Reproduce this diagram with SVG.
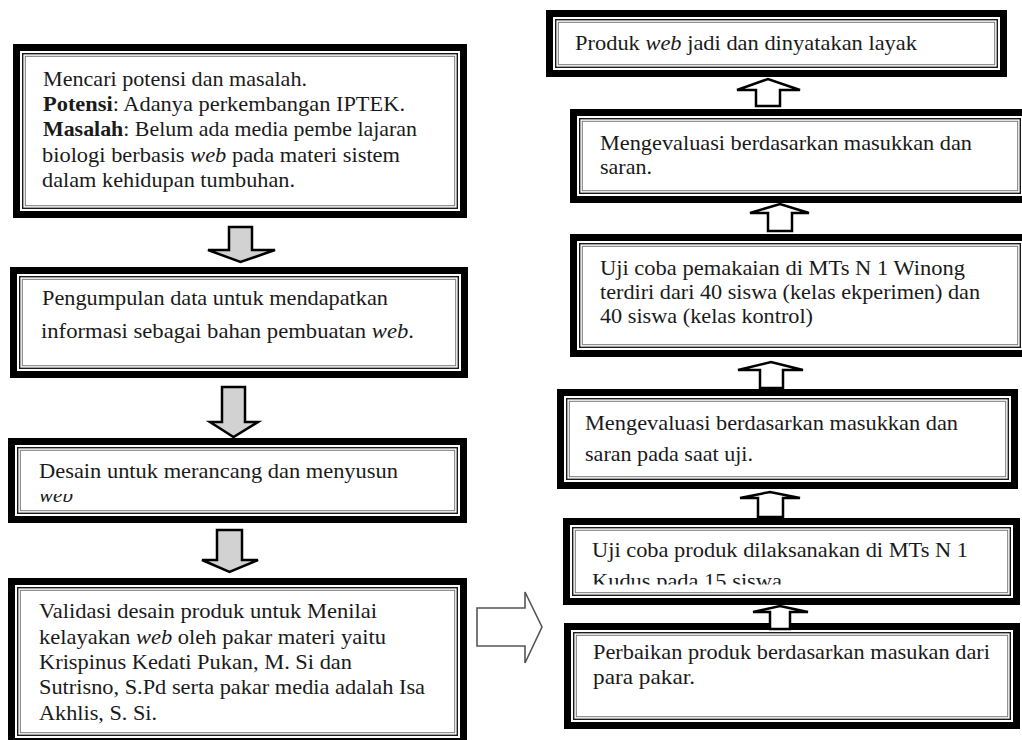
<svg xmlns="http://www.w3.org/2000/svg" width="1022" height="740" viewBox="0 0 1022 740">
<style>
.outer{fill:#fff;stroke:#000;stroke-width:7}
.in1{fill:none;stroke:#1a1a1a;stroke-width:1.4}
.in2{fill:none;stroke:#777;stroke-width:1}
.t{font-family:"Liberation Serif","Times New Roman",serif;font-size:21px;fill:#1a1a1a}
.b{font-weight:bold}
.i{font-style:italic}
.down{fill:#d2d2d2;stroke:#000;stroke-width:2.5;stroke-linejoin:miter}
.up{fill:#fff;stroke:#000;stroke-width:2.5;stroke-linejoin:miter}
.hollow{fill:#fff;stroke:#555;stroke-width:1.6}
</style>
<defs>
<clipPath id="clipWeb"><rect x="30" y="494" width="100" height="20"/></clipPath>
<clipPath id="clipKudus"><rect x="580" y="560" width="300" height="24.5"/></clipPath>
</defs>
<rect width="1022" height="740" fill="#fff"/>

<g id="node-potensi">
<rect class="outer" x="16.5" y="47.5" width="447" height="167"/>
<rect class="in1" x="22.7" y="53.7" width="434.6" height="154.6"/>
<rect class="in2" x="25.3" y="56.3" width="429.4" height="149.4"/>
<text class="t" x="43" y="86" textLength="264" lengthAdjust="spacingAndGlyphs">Mencari potensi dan masalah.</text>
<text class="t" x="43" y="111" textLength="362" lengthAdjust="spacingAndGlyphs"><tspan class="b">Potensi</tspan>: Adanya perkembangan IPTEK.</text>
<text class="t" x="43" y="136" textLength="374" lengthAdjust="spacingAndGlyphs"><tspan class="b">Masalah</tspan>: Belum ada media pembe lajaran</text>
<text class="t" x="42" y="162" textLength="358" lengthAdjust="spacingAndGlyphs">biologi berbasis <tspan class="i">web</tspan> pada materi sistem</text>
<text class="t" x="42" y="187" textLength="253" lengthAdjust="spacingAndGlyphs">dalam kehidupan tumbuhan.</text>
</g>

<g id="node-pengumpulan">
<rect class="outer" x="13.5" y="270.5" width="451" height="104"/>
<rect class="in1" x="19.7" y="276.7" width="438.6" height="91.6"/>
<rect class="in2" x="22.3" y="279.3" width="433.4" height="86.4"/>
<text class="t" x="42" y="305" textLength="346" lengthAdjust="spacingAndGlyphs">Pengumpulan data untuk mendapatkan</text>
<text class="t" x="41" y="338" textLength="373" lengthAdjust="spacingAndGlyphs">informasi sebagai bahan pembuatan <tspan class="i">web</tspan>.</text>
</g>

<g id="node-desain">
<rect class="outer" x="11.5" y="441.5" width="452" height="78"/>
<rect class="in1" x="17.7" y="447.7" width="439.6" height="65.6"/>
<rect class="in2" x="20.3" y="450.3" width="434.4" height="60.4"/>
<text class="t" x="39" y="478" textLength="359" lengthAdjust="spacingAndGlyphs">Desain untuk merancang dan menyusun</text>
<text class="t i" x="39" y="502" font-size="15" textLength="34" lengthAdjust="spacingAndGlyphs" clip-path="url(#clipWeb)">web</text>
</g>

<g id="node-validasi">
<rect class="outer" x="11.5" y="581.5" width="452" height="160"/>
<rect class="in1" x="17.7" y="587.7" width="439.6" height="147.6"/>
<rect class="in2" x="20.3" y="590.3" width="434.4" height="142.4"/>
<text class="t" x="39" y="618" textLength="338" lengthAdjust="spacingAndGlyphs">Validasi desain produk untuk Menilai</text>
<text class="t" x="39" y="644" textLength="347" lengthAdjust="spacingAndGlyphs">kelayakan <tspan class="i">web</tspan> oleh pakar materi yaitu</text>
<text class="t" x="39" y="669" textLength="313" lengthAdjust="spacingAndGlyphs">Krispinus Kedati Pukan, M. Si dan</text>
<text class="t" x="39" y="694" textLength="386" lengthAdjust="spacingAndGlyphs">Sutrisno, S.Pd serta pakar media adalah Isa</text>
<text class="t" x="39" y="720" textLength="118" lengthAdjust="spacingAndGlyphs">Akhlis, S. Si.</text>
</g>

<g id="node-produk-jadi">
<rect class="outer" x="549.5" y="13.5" width="454" height="60"/>
<rect class="in1" x="555.7" y="19.7" width="441.6" height="47.6"/>
<rect class="in2" x="558.3" y="22.3" width="436.4" height="42.4"/>
<text class="t" x="575" y="50" textLength="342" lengthAdjust="spacingAndGlyphs">Produk <tspan class="i">web</tspan> jadi dan dinyatakan layak</text>
</g>

<g id="node-evaluasi-2">
<rect class="outer" x="573.5" y="112.5" width="453" height="87"/>
<rect class="in1" x="579.7" y="118.7" width="440.6" height="74.6"/>
<rect class="in2" x="582.3" y="121.3" width="435.4" height="69.4"/>
<text class="t" x="600" y="150" textLength="372" lengthAdjust="spacingAndGlyphs">Mengevaluasi berdasarkan masukkan dan</text>
<text class="t" x="600" y="174" textLength="52" lengthAdjust="spacingAndGlyphs">saran.</text>
</g>

<g id="node-uji-pemakaian">
<rect class="outer" x="573.5" y="237.5" width="453" height="116"/>
<rect class="in1" x="579.7" y="243.7" width="440.6" height="103.6"/>
<rect class="in2" x="582.3" y="246.3" width="435.4" height="98.4"/>
<text class="t" x="600" y="275" textLength="365" lengthAdjust="spacingAndGlyphs">Uji coba pemakaian di MTs N 1 Winong</text>
<text class="t" x="600" y="299" textLength="380" lengthAdjust="spacingAndGlyphs">terdiri dari 40 siswa (kelas ekperimen) dan</text>
<text class="t" x="600" y="323" textLength="213" lengthAdjust="spacingAndGlyphs">40 siswa (kelas kontrol)</text>
</g>

<g id="node-evaluasi-1">
<rect class="outer" x="560.5" y="392.5" width="454" height="93"/>
<rect class="in1" x="566.7" y="398.7" width="441.6" height="80.6"/>
<rect class="in2" x="569.3" y="401.3" width="436.4" height="75.4"/>
<text class="t" x="585" y="430" textLength="373" lengthAdjust="spacingAndGlyphs">Mengevaluasi berdasarkan masukkan dan</text>
<text class="t" x="585" y="461" textLength="168" lengthAdjust="spacingAndGlyphs">saran pada saat uji.</text>
</g>

<g id="node-uji-produk">
<rect class="outer" x="566.5" y="521.5" width="450" height="80"/>
<rect class="in1" x="572.7" y="527.7" width="437.6" height="67.6"/>
<rect class="in2" x="575.3" y="530.3" width="432.4" height="62.4"/>
<text class="t" x="592" y="557" textLength="376" lengthAdjust="spacingAndGlyphs">Uji coba produk dilaksanakan di MTs N 1</text>
<text class="t" x="592" y="588" textLength="190" lengthAdjust="spacingAndGlyphs" clip-path="url(#clipKudus)">Kudus pada 15 siswa</text>
</g>

<g id="node-perbaikan">
<rect class="outer" x="567.5" y="626.5" width="449" height="99"/>
<rect class="in1" x="573.7" y="632.7" width="436.6" height="86.6"/>
<rect class="in2" x="576.3" y="635.3" width="431.4" height="81.4"/>
<text class="t" x="593" y="659" textLength="397" lengthAdjust="spacingAndGlyphs">Perbaikan produk berdasarkan masukan dari</text>
<text class="t" x="593" y="684" textLength="102" lengthAdjust="spacingAndGlyphs">para pakar.</text>
</g>

<g id="connectors">
<path class="down" d="M229,227 H252 V250 H275 L240.5,262 L208,250 H229 Z"/>
<path class="down" d="M222,387 H245 V422 H258 L233.5,437 L210,422 H222 Z"/>
<path class="down" d="M217,530 H242 V560 H258 L229.5,572 L202,560 H217 Z"/>
<path class="hollow" d="M477,608 H525 V592 L542,627 L525,663 V646 H477 Z"/>
<path class="up" d="M770,629 V612 H753 L780,606 L808,612 H790 V629 Z"/>
<path class="up" d="M758,517 V498 H740 L770,492 L800,498 H783 V517 Z"/>
<path class="up" d="M760,388 V370 H738 L771,362 L803,370 H783 V388 Z"/>
<path class="up" d="M768,231 V213 H750 L780,204 L809,213 H792 V231 Z"/>
<path class="up" d="M756,106 V90 H737 L768,79 L800,90 H780 V106 Z"/>
</g>
</svg>
